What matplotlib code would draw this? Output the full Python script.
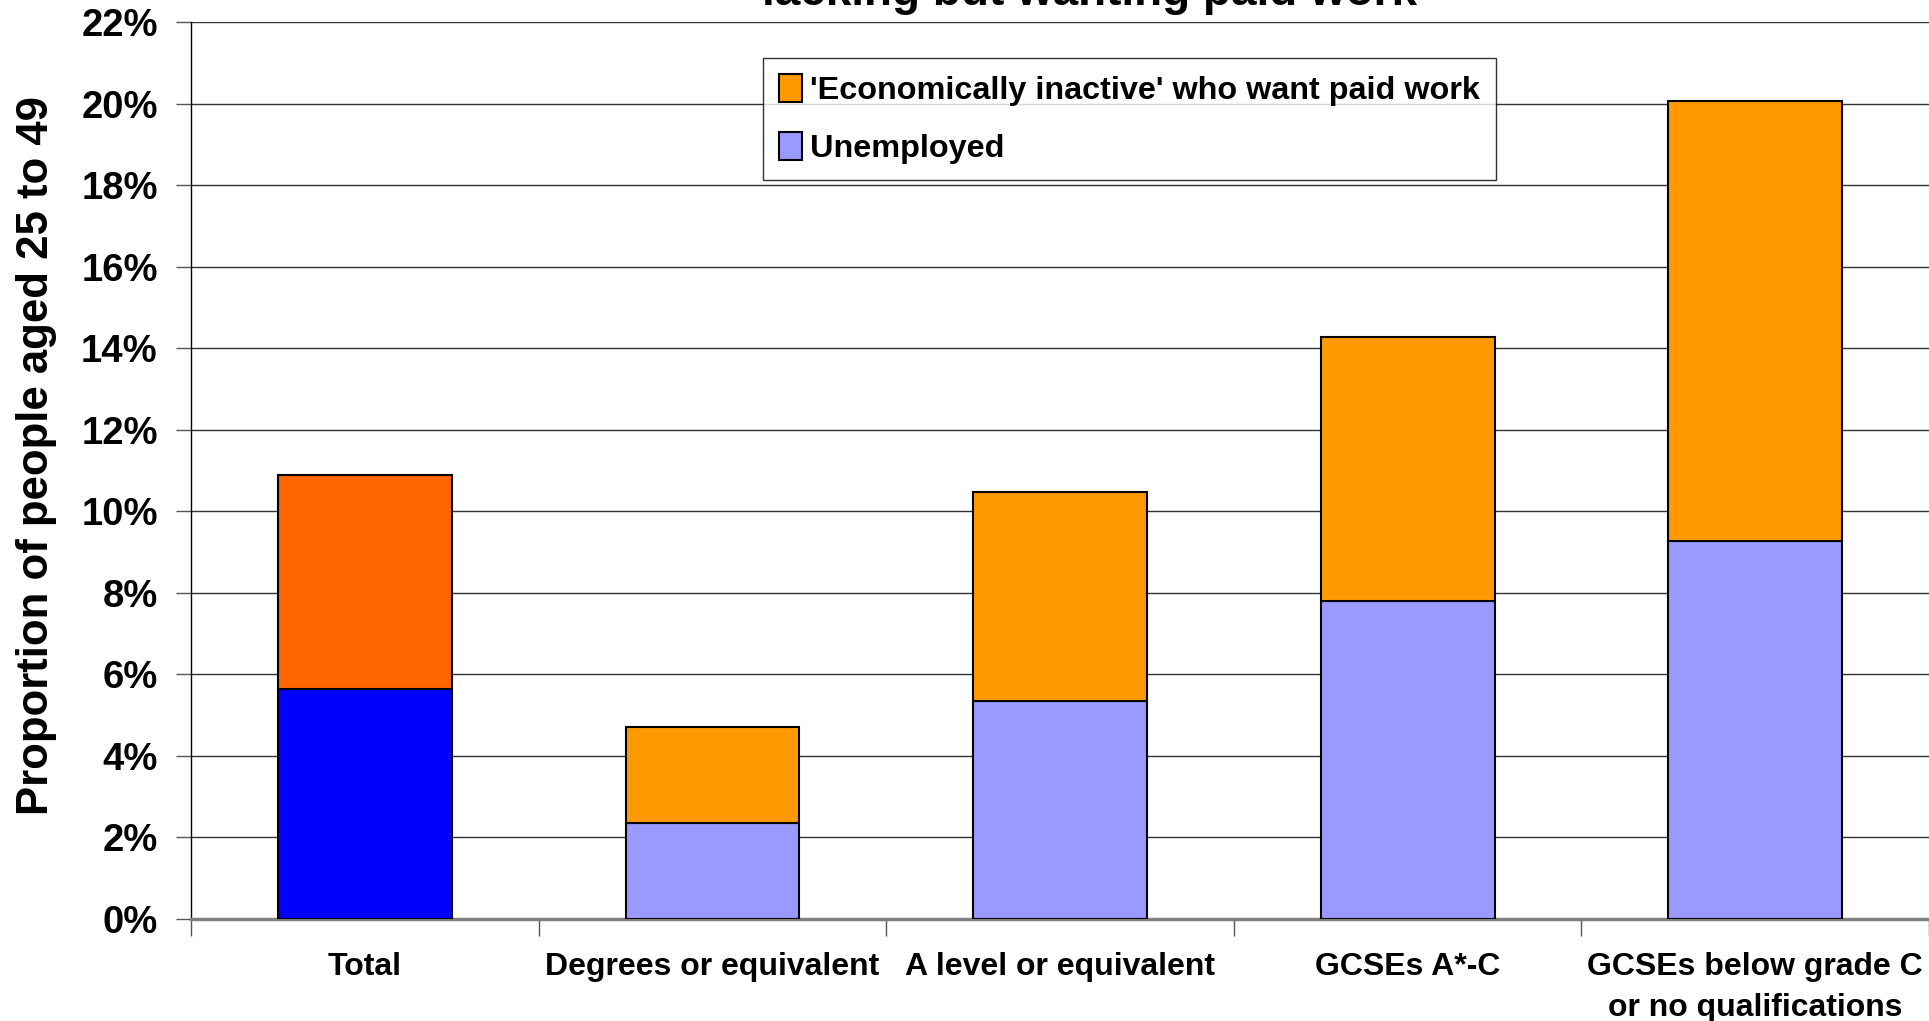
import numpy as np
import matplotlib
matplotlib.use("Agg")
import matplotlib.pyplot as plt
from matplotlib.patches import Patch

plt.rcParams['font.family'] = ['Liberation Sans', 'DejaVu Sans']
plt.rcParams['font.weight'] = 'bold'

# values (percent of people aged 25 to 49)
categories = ['Total', 'Degrees or equivalent', 'A level or equivalent',
              'GCSEs A*-C', 'GCSEs below grade C\nor no qualifications']
unemployed = [5.64, 2.35, 5.34, 7.79, 9.26]
inactive_want_work = [5.25, 2.36, 5.13, 6.48, 10.81]
yticks = [0, 2, 4, 6, 8, 10, 12, 14, 16, 18, 20, 22]

unemp_colors = ['#0000FF', '#9999FF', '#9999FF', '#9999FF', '#9999FF']
inact_colors = ['#FF6600', '#FF9900', '#FF9900', '#FF9900', '#FF9900']

fig = plt.figure(figsize=(19.29, 10.21), dpi=100)
ax = fig.add_axes([191/1929, 1 - 919/1021, 1 - 191/1929, (919 - 22)/1021])

x = np.arange(len(categories))
ax.bar(x, unemployed, width=0.5, color=unemp_colors, edgecolor='black', linewidth=1.5, zorder=3)
ax.bar(x, inactive_want_work, width=0.5, bottom=unemployed, color=inact_colors,
       edgecolor='black', linewidth=1.5, zorder=3)

ax.set_xlim(-0.5, len(categories) - 0.5)
ax.set_ylim(0, 22)
ax.set_yticks(yticks)
ax.set_yticklabels([f'{t}%' for t in yticks], fontsize=27.5, fontweight='bold')
ax.yaxis.grid(True, color='#333333', linewidth=1, zorder=0)
ax.tick_params(axis='y', direction='out', length=11, width=1, pad=13, color='#555555')

ax.set_xticks(x)
ax.set_xticklabels(categories, fontsize=23, fontweight='bold', linespacing=1.45, va='top')
ax.tick_params(axis='x', which='major', length=0, pad=24)
ax.set_xticks(np.arange(len(categories) + 1) - 0.5, minor=True)
ax.tick_params(axis='x', which='minor', direction='out', length=12, width=1, color='#555555')

ax.spines['top'].set_visible(False)
ax.spines['right'].set_visible(False)
ax.spines['left'].set_color('black')
ax.spines['left'].set_linewidth(1)
ax.spines['bottom'].set_color('#808080')
ax.spines['bottom'].set_linewidth(2.5)

ax.set_ylabel('Proportion of people aged 25 to 49', fontsize=31.5, fontweight='bold')
ax.yaxis.set_label_coords(-0.077, 0.517)

# title is cut off at the top of the picture, only last line shows
fig.text(1089/1929, 1 - 5/1021, 'lacking but wanting paid work', ha='center', va='baseline',
         fontsize=33, fontweight='bold')

handles = [Patch(facecolor='#FF9900', edgecolor='black', linewidth=1.5),
           Patch(facecolor='#9999FF', edgecolor='black', linewidth=1.5)]
leg = ax.legend(handles, ["'Economically inactive' who want paid work", 'Unemployed'],
                loc='upper left', bbox_to_anchor=((763 - 191)/1738, (919 - 58)/897),
                fontsize=23.3, frameon=True, fancybox=False, edgecolor='black',
                handlelength=0.7, handleheight=0.95, handletextpad=0.25,
                labelspacing=0.8, borderpad=0.5, borderaxespad=0)
leg.get_frame().set_linewidth(1)
leg.set_zorder(5)

fig.savefig('out.png', dpi=100)
